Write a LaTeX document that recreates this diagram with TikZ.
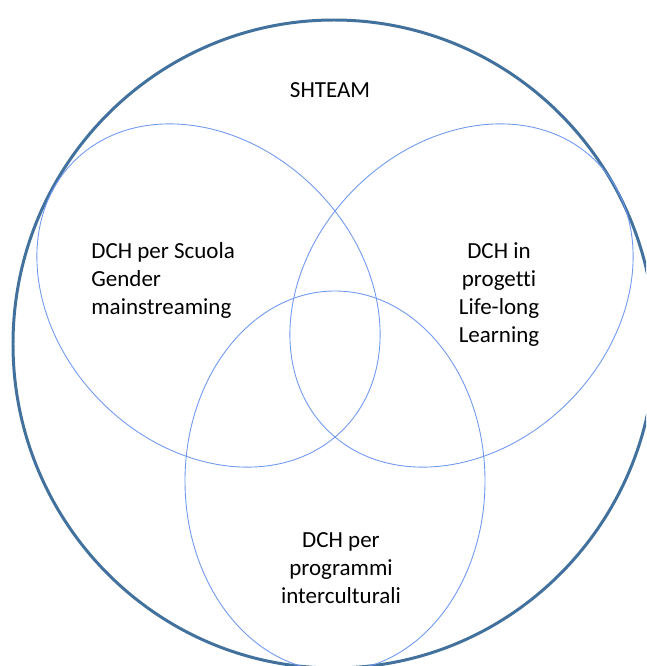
\documentclass[tikz,border=0pt]{standalone}
\usepackage{fontspec}
\setmainfont[Ligatures=NoCommon]{Carlito}
\usetikzlibrary{calc}
\definecolor{ringblue}{RGB}{65,113,156}
\definecolor{vennblue}{RGB}{112,152,240}
\tikzset{
	ring/.style={line width=1.7pt, color=ringblue},
	venn/.style={line width=0.5pt, color=vennblue},
	lbl/.style={inner sep=0pt, font=\fontsize{13.1pt}{15.8pt}\selectfont}
}

\begin{document}
\begin{tikzpicture}[x=0.02cm, y=-0.02cm]
		%%%%% START %%%%%
		\useasboundingbox (0, 0) rectangle (646, 666);
		\clip (0, 0) rectangle (646, 666);
		
		\coordinate (cbig) at (334, 344);
		\coordinate (cleft) at (208.5, 295.5);
		\coordinate (cright) at (461.5, 295.5);
		\coordinate (cbottom) at (335, 481);
		
		\draw[ring] (cbig) ellipse (321 and 324);
		
		\draw[venn, rotate around={-45:(cleft)}] (cleft) ellipse (190 and 151);
		\draw[venn, rotate around={45:(cright)}] (cright) ellipse (190 and 151);
		\draw[venn] (cbottom) ellipse (150 and 190);
		
		% base = last line
		\node[lbl, anchor=base] (shteam) at (330, 97) {SHTEAM};
		\node[lbl, anchor=base west, align=left] (scuola) at (91, 314) {DCH per Scuola\\Gender\\mainstreaming};
		\node[lbl, anchor=base, align=center] (lifelong) at (499, 342) {DCH in\\progetti\\Life-long\\Learning};
		\node[lbl, anchor=base, align=center] (intercult) at (341, 603) {DCH per\\programmi\\interculturali};
		
		%%%%% END %%%%%
	\end{tikzpicture}
\end{document}
